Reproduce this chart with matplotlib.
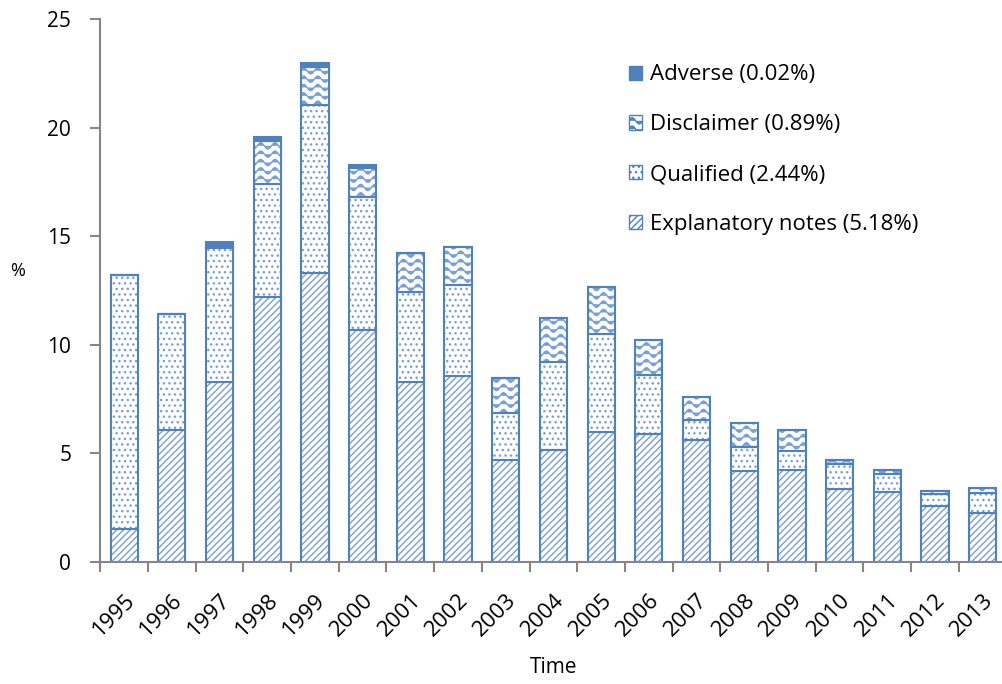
import warnings
import numpy as np
import matplotlib
matplotlib.use("Agg")
import matplotlib.pyplot as plt
from matplotlib import hatch as mhatch
from matplotlib.patches import Patch

warnings.filterwarnings("ignore")

years = [str(y) for y in range(1995, 2014)]
explanatory = [1.5, 6.1, 8.3, 12.2, 13.3, 10.7, 8.3, 8.55, 4.7, 5.15,
               6.0, 5.9, 5.6, 4.2, 4.25, 3.35, 3.2, 2.6, 2.25]
qualified = [11.7, 5.3, 6.15, 5.2, 7.75, 6.1, 4.15, 4.2, 2.15, 4.05,
             4.5, 2.7, 0.95, 1.1, 0.85, 1.15, 0.85, 0.52, 0.91]
disclaimer = [0, 0, 0.05, 2.0, 1.75, 1.33, 1.77, 1.75, 1.62, 2.03,
              2.15, 1.62, 1.05, 1.1, 0.98, 0.2, 0.17, 0.16, 0.25]
adverse = [0, 0, 0.22, 0.15, 0.17, 0.15, 0, 0, 0, 0,
           0, 0, 0, 0, 0, 0, 0, 0, 0]
labels = ["Explanatory notes (5.18%)", "Qualified (2.44%)",
          "Disclaimer (0.89%)", "Adverse (0.02%)"]


class WaveHatch(mhatch.HatchPatternBase):
    """Wavy hatch lines, one '~' gives `density` rows per inch."""
    npts = 120
    periods = 7

    def __init__(self, hatch, density):
        self.num_rows = int(hatch.count('~') * density)
        self.num_lines = self.num_rows
        self.num_vertices = self.num_rows * self.npts

    def set_vertices_and_codes(self, vertices, codes):
        t = np.linspace(0, 1, self.npts)
        amp = 0.5 / self.num_rows * 0.75
        for i in range(self.num_rows):
            y0 = (i + 0.5) / self.num_rows
            sl = slice(i * self.npts, (i + 1) * self.npts)
            vertices[sl, 0] = t
            vertices[sl, 1] = y0 + amp * np.sin(2 * np.pi * self.periods * t)
            codes[sl] = mhatch.Path.LINETO
            codes[i * self.npts] = mhatch.Path.MOVETO


mhatch._hatch_types.append(WaveHatch)

plt.rcParams['font.family'] = ['Open Sans', 'DejaVu Sans']
plt.rcParams['hatch.linewidth'] = 1.0

edge = '#4F81BD'
hatch_col = '#7A9FD3'
grey = '#868686'

fig = plt.figure(figsize=(10.03, 6.84), dpi=100)
ax = fig.add_axes([100.3 / 1003, 122 / 684, 906.3 / 1003, 543 / 684])

x = np.arange(len(years))
w = 0.57
series = [explanatory, qualified, disclaimer, adverse]
hatches = ['/////', '...', '~~', None]
bottom = np.zeros(len(years))
for vals, h in zip(series, hatches):
    vals = np.array(vals, dtype=float)
    if h is None:
        ax.bar(x, vals, w, bottom=bottom, color=edge, edgecolor=edge, linewidth=1.5)
    else:
        ax.bar(x, vals, w, bottom=bottom, facecolor='white', edgecolor=hatch_col,
               linewidth=0, hatch=h)
        ax.bar(x, vals, w, bottom=bottom, facecolor='none', edgecolor=edge,
               linewidth=1.5)
    bottom += vals

ax.set_xlim(-0.5, len(years) - 0.5)
ax.set_ylim(0, 25)
ax.set_yticks(np.arange(0, 26, 5))
ax.set_xticks(np.arange(len(years) + 1) - 0.5)
ax.set_xticklabels([])
ax.set_xticks(x, minor=True)
ax.set_xticklabels(years, minor=True, rotation=45, ha='right',
                   rotation_mode='anchor', fontsize=16)
ax.tick_params(axis='x', which='minor', length=0, pad=20)
ax.tick_params(axis='x', which='major', length=7, width=1.5, color=grey)
ax.tick_params(axis='y', length=7, width=1.5, color=grey, labelsize=15, pad=14)

for s in ['top', 'right']:
    ax.spines[s].set_visible(False)
for s in ['left', 'bottom']:
    ax.spines[s].set_color(grey)
    ax.spines[s].set_linewidth(1.5)

ax.set_ylabel('%', rotation=0, fontsize=13)
ax.yaxis.set_label_coords(-0.091, 0.52)
ax.set_xlabel('Time', fontsize=15)
ax.xaxis.set_label_coords(0.5, -0.175)

handles = [Patch(facecolor=edge, edgecolor=edge, linewidth=1),
           Patch(facecolor='white', edgecolor=edge, hatch='~~', linewidth=1),
           Patch(facecolor='white', edgecolor=edge, hatch='...', linewidth=1),
           Patch(facecolor='white', edgecolor=edge, hatch='/////', linewidth=1)]
fig.legend(handles, labels[::-1], loc='upper left', bbox_to_anchor=(0.607, 0.935),
           frameon=False, fontsize=16, handlelength=0.6, handleheight=0.6,
           handletextpad=0.35, labelspacing=1.3)

fig.savefig('out.png', dpi=100)
